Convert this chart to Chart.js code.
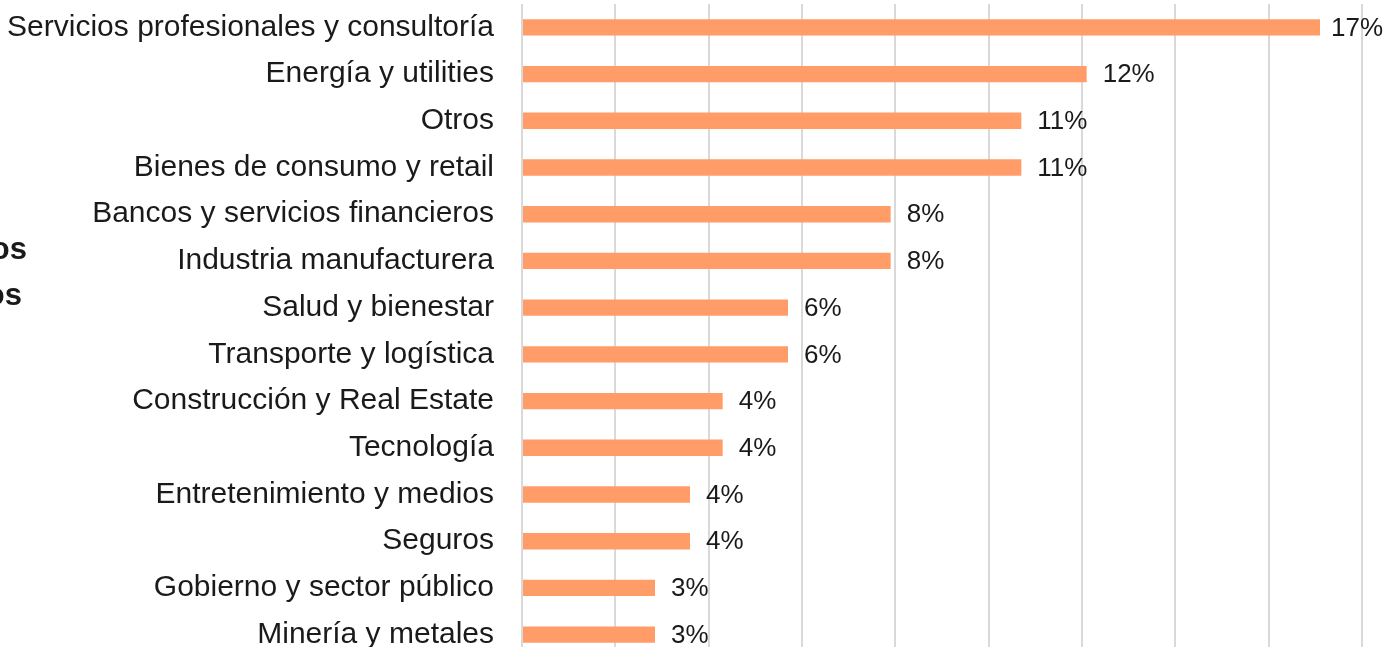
<!DOCTYPE html>
<html>
<head>
<meta charset="utf-8">
<script src="https://cdn.jsdelivr.net/npm/chart.js@4.4.1/dist/chart.umd.min.js"></script>
<style>
  html, body { margin: 0; padding: 0; background: #fff; overflow: hidden; }
  #wrap { position: absolute; left: 0; top: 0; width: 1386px; height: 658px; }
  .side { position: absolute; font-family: "Liberation Sans", Arial, sans-serif; font-weight: bold; font-size: 31px; color: #1a1a1a; white-space: nowrap; text-align: right; }
</style>
</head>
<body>
<div id="wrap"><canvas id="chart" width="1386" height="658"></canvas></div>
<div class="side" style="right: 1359px; top: 231px;">os</div>
<div class="side" style="right: 1364px; top: 277px;">os</div>
<script>
const categories = [
  'Servicios profesionales y consultoría',
  'Energía y utilities',
  'Otros',
  'Bienes de consumo y retail',
  'Bancos y servicios financieros',
  'Industria manufacturera',
  'Salud y bienestar',
  'Transporte y logística',
  'Construcción y Real Estate',
  'Tecnología',
  'Entretenimiento y medios',
  'Seguros',
  'Gobierno y sector público',
  'Minería y metales'
]
const shares = [17.1, 12.1, 10.7, 10.7, 7.9, 7.9, 5.7, 5.7, 4.3, 4.3, 3.6, 3.6, 2.85, 2.85]
const shareLabels = ['17%', '12%', '11%', '11%', '8%', '8%', '6%', '6%', '4%', '4%', '4%', '4%', '3%', '3%']

// draws the % text right after each bar, kept inside the canvas
const valueLabels = {
  id: 'valueLabels',
  afterDatasetsDraw(chart) {
    const ctx = chart.ctx
    const meta = chart.getDatasetMeta(0)
    ctx.save()
    ctx.font = '26px "Liberation Sans", Arial, sans-serif'
    ctx.fillStyle = '#1a1a1a'
    ctx.textAlign = 'left'
    ctx.textBaseline = 'middle'
    meta.data.forEach((bar, i) => {
      const w = ctx.measureText(shareLabels[i]).width
      const x = Math.min(bar.x + 16, chart.width - 3 - w)
      ctx.fillText(shareLabels[i], x, bar.y + 1)
    })
    ctx.restore()
  }
}

const chart = document.querySelector('#chart').getContext('2d')

new Chart(chart, {
  type: 'bar',
  data: {
    labels: categories,
    datasets: [{
      data: shares,
      backgroundColor: '#ff9c68',
      borderWidth: 0,
      barPercentage: 0.7,
      categoryPercentage: 0.5
    }]
  },
  options: {
    indexAxis: 'y',
    responsive: false,
    animation: false,
    layout: { padding: { top: 4, right: 24, bottom: 0, left: 0 } },
    plugins: { legend: { display: false }, tooltip: { enabled: false } },
    scales: {
      x: {
        min: 0,
        max: 18,
        ticks: { display: false, stepSize: 2 },
        grid: { color: '#d9d9d9', lineWidth: 2, drawTicks: false },
        border: { display: false },
        afterFit(scale) { scale.height = 0; scale.paddingLeft = 0; scale.paddingRight = 0 }
      },
      y: {
        grid: { display: false, drawTicks: false },
        border: { display: false },
        ticks: {
          color: '#1a1a1a',
          padding: 28,
          font: { family: '"Liberation Sans", Arial, sans-serif', size: 30 }
        },
        afterFit(scale) { scale.width = 522; scale.paddingTop = 0; scale.paddingBottom = 0 }
      }
    }
  },
  plugins: [valueLabels]
})
</script>
</body>
</html>
